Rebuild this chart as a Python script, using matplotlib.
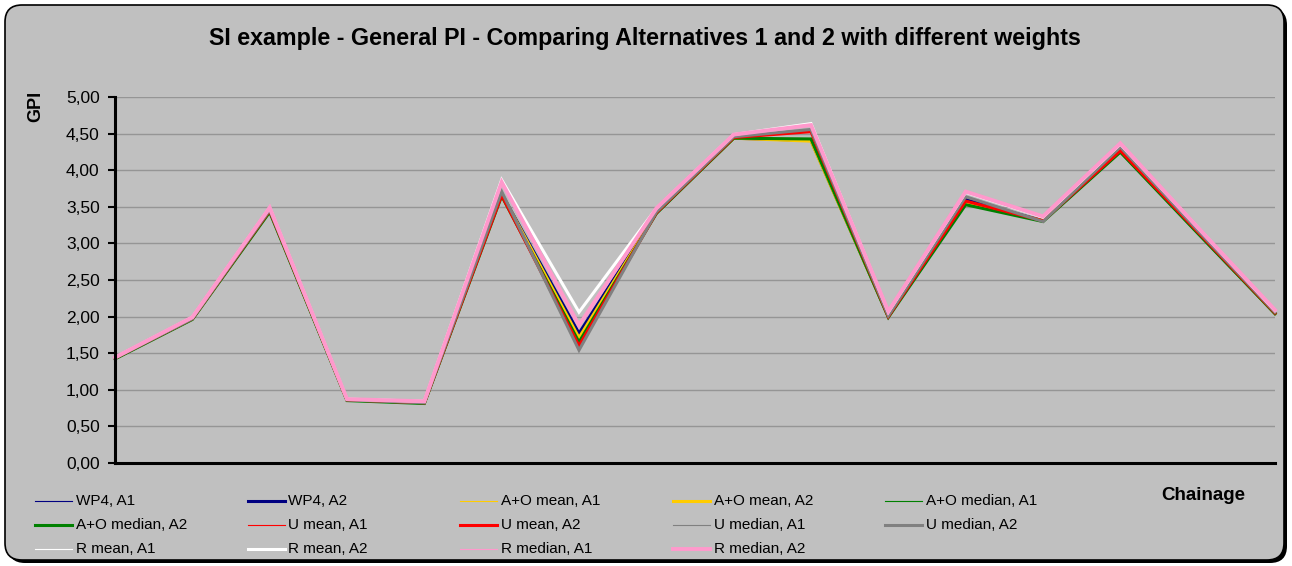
import matplotlib
matplotlib.use("Agg")
import matplotlib.pyplot as plt
from matplotlib.patches import FancyBboxPatch
from matplotlib.lines import Line2D
import numpy as np

plt.rcParams['font.family'] = ['Liberation Sans', 'DejaVu Sans']

# ---------------- data ----------------
chainage = list(range(1, 17))
wp4       = [1.43, 1.97, 3.45, 0.86, 0.82, 3.68, 1.77, 3.42, 4.44, 4.41, 2.00, 3.60, 3.31, 4.26, 3.15, 2.04]
ao_mean   = [1.43, 1.97, 3.45, 0.86, 0.82, 3.68, 1.71, 3.42, 4.44, 4.40, 2.00, 3.57, 3.31, 4.26, 3.15, 2.04]
ao_median = [1.42, 1.96, 3.43, 0.85, 0.81, 3.65, 1.65, 3.41, 4.44, 4.43, 1.99, 3.53, 3.30, 4.25, 3.14, 2.04]
u_mean    = [1.43, 1.97, 3.45, 0.86, 0.82, 3.66, 1.60, 3.42, 4.45, 4.53, 2.00, 3.58, 3.31, 4.27, 3.16, 2.05]
u_median  = [1.43, 1.97, 3.46, 0.86, 0.82, 3.71, 1.54, 3.43, 4.46, 4.56, 2.01, 3.64, 3.30, 4.32, 3.18, 2.06]
r_mean    = [1.44, 1.99, 3.49, 0.87, 0.84, 3.87, 2.06, 3.48, 4.49, 4.64, 2.06, 3.70, 3.36, 4.36, 3.22, 2.08]
r_median  = [1.44, 1.99, 3.49, 0.87, 0.84, 3.84, 1.88, 3.48, 4.49, 4.62, 2.07, 3.71, 3.37, 4.37, 3.22, 2.09]

series_labels = ["WP4, A1", "WP4, A2", "A+O mean, A1", "A+O mean, A2",
                 "A+O median, A1", "A+O median, A2", "U mean, A1", "U mean, A2",
                 "U median, A1", "U median, A2", "R mean, A1", "R mean, A2",
                 "R median, A1", "R median, A2"]
series_values = [wp4, wp4, ao_mean, ao_mean, ao_median, ao_median, u_mean, u_mean,
                 u_median, u_median, r_mean, r_mean, r_median, r_median]
series_colors = ["#000080", "#000080", "#FFCC00", "#FFCC00", "#008000", "#008000",
                 "#FF0000", "#FF0000", "#808080", "#808080", "#FFFFFF", "#FFFFFF",
                 "#FF99CC", "#FF99CC"]
series_widths = [0.8, 2.2, 0.8, 2.2, 0.8, 2.2, 0.8, 2.2, 0.8, 2.2, 0.8, 2.2, 0.8, 2.8]

yticks = [0, 0.5, 1.0, 1.5, 2.0, 2.5, 3.0, 3.5, 4.0, 4.5, 5.0]
ytick_labels = ["0,00", "0,50", "1,00", "1,50", "2,00", "2,50", "3,00", "3,50",
                "4,00", "4,50", "5,00"]

title = "SI example - General PI - Comparing Alternatives 1 and 2 with different weights"

# ---------------- figure ----------------
W, H = 1292, 566
fig = plt.figure(figsize=(W / 100, H / 100), dpi=100)
fig.patch.set_facecolor("white")

bg = fig.add_axes([0, 0, 1, 1], zorder=0)
bg.set_xlim(0, W)
bg.set_ylim(H, 0)
bg.axis("off")
shadow = FancyBboxPatch((8, 8), 1279, 555, boxstyle="round,pad=0,rounding_size=17",
                        fc="black", ec="black", lw=0)
box = FancyBboxPatch((5, 5), 1279, 555, boxstyle="round,pad=0,rounding_size=17",
                     fc="#C0C0C0", ec="black", lw=1.2)
bg.add_patch(shadow)
bg.add_patch(box)

left, right, top, bottom = 115, 1275, 97.3, 462.7
ax = fig.add_axes([left / W, 1 - bottom / H, (right - left) / W, (bottom - top) / H], zorder=1)
ax.set_facecolor("#C0C0C0")

x = np.arange(len(chainage))
for vals, c, lw in zip(series_values, series_colors, series_widths):
    ax.plot(x, vals, color=c, lw=lw, clip_on=False, solid_joinstyle="miter")

ax.set_xlim(0, len(chainage) - 1)
ax.set_ylim(0, 5)
ax.set_yticks(yticks)
ax.set_yticklabels(ytick_labels, fontsize=12.5)
ax.set_xticks([])
ax.yaxis.grid(True, color="#959595", lw=1.0)
ax.set_axisbelow(True)
for s in ["top", "right"]:
    ax.spines[s].set_visible(False)
ax.spines["left"].set_linewidth(2.2)
ax.spines["bottom"].set_linewidth(2.2)
ax.tick_params(axis="y", direction="out", length=5, width=1.5, pad=6, colors="black")

t = fig.text(644.5 / W, 1 - 39 / H, title, ha="center", va="center", fontsize=15,
             fontweight="bold")
# scale the title so it spans the same width as in the reference
fig.canvas.draw()
w_now = t.get_window_extent().width
t.set_fontsize(15 * 873.0 / w_now)

fig.text(36 / W, 1 - 106 / H, "GPI", ha="center", va="center", rotation=90,
         fontsize=13, fontweight="bold")
fig.text(1203 / W, 1 - 495 / H, "Chainage", ha="center", va="center", fontsize=13.5,
         fontweight="bold")

# legend (row-wise, 5 columns)
col_x0, col_dx = 35, 212.5
row_y0, row_dy = 501, 24
for i, (lab, c, lw) in enumerate(zip(series_labels, series_colors, series_widths)):
    r, cc = divmod(i, 5)
    x0 = col_x0 + cc * col_dx
    y0 = row_y0 + r * row_dy
    bg.add_line(Line2D([x0, x0 + 37], [y0, y0], color=c, lw=lw))
    bg.text(x0 + 41, y0, lab, ha="left", va="center", fontsize=11)

fig.savefig("out.png", dpi=100, facecolor=fig.get_facecolor())
